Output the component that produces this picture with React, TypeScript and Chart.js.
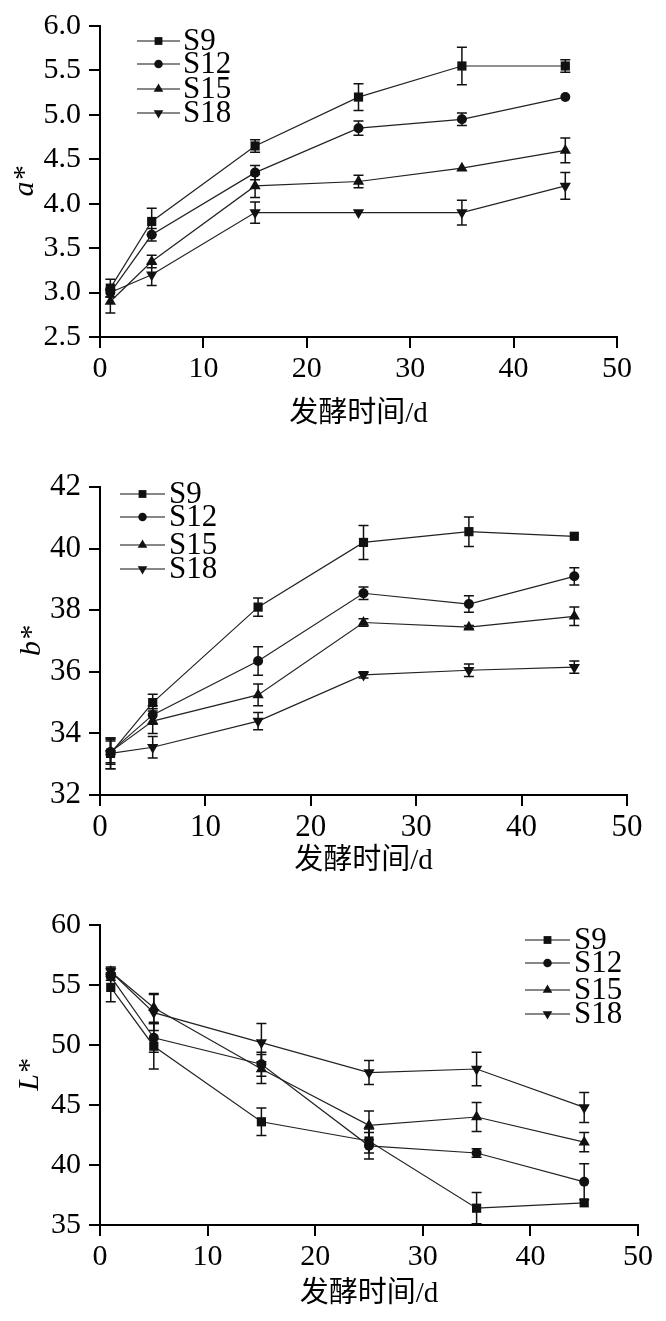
import React, { useEffect, useRef } from 'react';
import { Chart, registerables } from 'chart.js';

Chart.register(...registerables);

// ---------- data ----------
const days = [1, 5, 15, 25, 35, 45];
const seriesNames = ['S9', 'S12', 'S15', 'S18'];
const xAxisTitle = '发酵时间/d';

// a*
const aS9 = [3.05, 3.8, 4.65, 5.2, 5.55, 5.55];
const aS12 = [3.0, 3.65, 4.35, 4.85, 4.95, 5.2];
const aS15 = [2.9, 3.35, 4.2, 4.25, 4.4, 4.6];
const aS18 = [3.0, 3.2, 3.9, 3.9, 3.9, 4.2];
const aS9Err = [0.1, 0.15, 0.07, 0.15, 0.21, 0.07];
const aS12Err = [0.05, 0.07, 0.08, 0.08, 0.07, 0];
const aS15Err = [0.13, 0.07, 0.13, 0.07, 0, 0.14];
const aS18Err = [0, 0.12, 0.12, 0, 0.14, 0.15];

// b*
const bS9 = [33.35, 35.0, 38.1, 40.2, 40.55, 40.4];
const bS12 = [33.4, 34.6, 36.35, 38.55, 38.2, 39.1];
const bS15 = [33.4, 34.4, 35.25, 37.6, 37.45, 37.8];
const bS18 = [33.35, 33.55, 34.4, 35.9, 36.05, 36.15];
const bS9Err = [0.5, 0.27, 0.3, 0.55, 0.48, 0];
const bS12Err = [0.4, 0.3, 0.46, 0.2, 0.27, 0.28];
const bS15Err = [0.35, 0.4, 0.35, 0.12, 0.05, 0.3];
const bS18Err = [0.5, 0.35, 0.28, 0.1, 0.2, 0.2];

// L*
const lS9 = [54.8, 49.9, 43.6, 42.0, 36.4, 36.85];
const lS12 = [55.7, 50.6, 48.4, 41.6, 41.0, 38.6];
const lS15 = [56.1, 53.1, 48.0, 43.3, 44.0, 41.9];
const lS18 = [56.1, 52.7, 50.2, 47.7, 48.0, 44.8];
const lS9Err = [1.2, 1.9, 1.15, 1.0, 1.3, 0];
const lS12Err = [0.3, 1.2, 1.0, 1.1, 0.35, 1.5];
const lS15Err = [0.3, 1.2, 1.2, 1.2, 1.2, 0.8];
const lS18Err = [0.4, 1.5, 1.6, 1.0, 1.4, 1.25];

// ---------- styles ----------
const SERIF = "'Liberation Serif', 'Times New Roman', Times, serif";
const CJK = "'Liberation Serif', 'Noto Sans CJK SC', serif";
const INK = '#111';
const pointStyles = ['rect', 'circle', 'triangle', 'triangle'];
const pointRotations = [0, 0, 0, 180];
const pointRadii = [6.5, 5, 6.5, 6.5];

function drawMarker(ctx: CanvasRenderingContext2D, style: string, x: number, y: number, r: number, rotDeg: number) {
  ctx.beginPath();
  if (style === 'rect') {
    const s = Math.SQRT1_2 * r;
    ctx.rect(x - s, y - s, 2 * s, 2 * s);
  } else if (style === 'circle') {
    ctx.arc(x, y, r, 0, Math.PI * 2);
  } else {
    let rad = (rotDeg * Math.PI) / 180;
    const step = (2 * Math.PI) / 3;
    ctx.moveTo(x + Math.sin(rad) * r, y - Math.cos(rad) * r);
    rad += step;
    ctx.lineTo(x + Math.sin(rad) * r, y - Math.cos(rad) * r);
    rad += step;
    ctx.lineTo(x + Math.sin(rad) * r, y - Math.cos(rad) * r);
    ctx.closePath();
  }
  ctx.fill();
}

const errorBarPlugin = {
  id: 'errorBars',
  beforeDatasetsDraw(chart: any) {
    const ctx = chart.ctx as CanvasRenderingContext2D;
    const xs = chart.scales.x;
    const ys = chart.scales.y;
    ctx.save();
    ctx.strokeStyle = INK;
    ctx.lineWidth = 1.5;
    chart.data.datasets.forEach((ds: any) => {
      const errs: number[] = ds.errors || [];
      ds.data.forEach((p: any, i: number) => {
        const e = errs[i];
        if (!e) return;
        const px = xs.getPixelForValue(p.x);
        const y1 = ys.getPixelForValue(p.y + e);
        const y2 = ys.getPixelForValue(p.y - e);
        ctx.beginPath();
        ctx.moveTo(px, y1);
        ctx.lineTo(px, y2);
        ctx.moveTo(px - 5, y1);
        ctx.lineTo(px + 5, y1);
        ctx.moveTo(px - 5, y2);
        ctx.lineTo(px + 5, y2);
        ctx.stroke();
      });
    });
    ctx.restore();
  },
};

const innerLegendPlugin = {
  id: 'innerLegend',
  afterDraw(chart: any, _args: any, opts: any) {
    const ctx = chart.ctx as CanvasRenderingContext2D;
    const { x0, x1, textX, rows, fontSize } = opts;
    ctx.save();
    chart.data.datasets.forEach((ds: any, i: number) => {
      const yy = rows[i];
      ctx.strokeStyle = INK;
      ctx.lineWidth = 1.2;
      ctx.beginPath();
      ctx.moveTo(x0, yy);
      ctx.lineTo(x1, yy);
      ctx.stroke();
      ctx.fillStyle = INK;
      drawMarker(ctx, pointStyles[i], (x0 + x1) / 2, yy, pointRadii[i] * 0.85, pointRotations[i]);
      ctx.fillStyle = '#000';
      ctx.font = `${fontSize}px ${SERIF}`;
      ctx.textBaseline = 'middle';
      ctx.textAlign = 'left';
      ctx.fillText(ds.label, textX, yy + 1);
    });
    ctx.restore();
  },
};

type Panel = {
  top: number;
  height: number;
  left: number;
  right: number;
  areaTop: number;
  areaBottom: number;
  yMin: number;
  yMax: number;
  yStep: number;
  yDecimals: number;
  yTitle: string;
  values: number[][];
  errors: number[][];
  legend: { x0: number; x1: number; textX: number; rows: number[]; fontSize: number };
  tickSize: number;
  xTitlePad: number;
  yTitlePad: number;
};

const W = 666;

const panels: Panel[] = [
  {
    top: 0, height: 440, left: 100, right: 617, areaTop: 23, areaBottom: 337,
    yMin: 2.5, yMax: 6.0, yStep: 0.5, yDecimals: 1, yTitle: 'a*',
    values: [aS9, aS12, aS15, aS18], errors: [aS9Err, aS12Err, aS15Err, aS18Err],
    legend: { x0: 137, x1: 180, textX: 183, rows: [41, 64, 89, 113], fontSize: 31 },
    tickSize: 30, xTitlePad: 8, yTitlePad: 10,
  },
  {
    top: 440, height: 440, left: 100, right: 627, areaTop: 47, areaBottom: 355,
    yMin: 32, yMax: 42, yStep: 2, yDecimals: 0, yTitle: 'b*',
    values: [bS9, bS12, bS15, bS18], errors: [bS9Err, bS12Err, bS15Err, bS18Err],
    legend: { x0: 120, x1: 165, textX: 169, rows: [54, 77, 105, 129], fontSize: 31 },
    tickSize: 31, xTitlePad: 1, yTitlePad: 17,
  },
  {
    top: 880, height: 441, left: 100, right: 638, areaTop: 45, areaBottom: 345,
    yMin: 35, yMax: 60, yStep: 5, yDecimals: 0, yTitle: 'L*',
    values: [lS9, lS12, lS15, lS18], errors: [lS9Err, lS12Err, lS15Err, lS18Err],
    legend: { x0: 525, x1: 570, textX: 574, rows: [60, 83, 110, 134], fontSize: 31 },
    tickSize: 30, xTitlePad: 9, yTitlePad: 15,
  },
];

function ChartPanel({ p }: { p: Panel }) {
  const ref = useRef<HTMLCanvasElement | null>(null);
  useEffect(() => {
    if (!ref.current) return;
    const datasets = seriesNames.map((name, i) => ({
      label: name,
      data: days.map((d, j) => ({ x: d, y: p.values[i][j] })),
      errors: p.errors[i],
      borderColor: '#222',
      borderWidth: 1.2,
      backgroundColor: INK,
      pointBackgroundColor: INK,
      pointBorderColor: INK,
      pointBorderWidth: 0,
      pointStyle: pointStyles[i],
      pointRotation: pointRotations[i],
      pointRadius: pointRadii[i],
      fill: false,
      tension: 0,
      clip: 12,
    }));
    const gridOpts = {
      display: true,
      drawOnChartArea: false,
      drawTicks: true,
      tickLength: 11,
      color: '#000',
      lineWidth: 2,
    };
    const chart = new Chart(ref.current, {
      type: 'line',
      data: { datasets } as any,
      plugins: [errorBarPlugin, innerLegendPlugin],
      options: {
        animation: false,
        responsive: false,
        devicePixelRatio: 1,
        layout: {
          padding: { left: 0, top: p.areaTop, right: W - p.right, bottom: 0 },
        },
        plugins: {
          legend: { display: false },
          tooltip: { enabled: false },
          innerLegend: p.legend,
        } as any,
        scales: {
          x: {
            type: 'linear',
            min: 0,
            max: 50,
            ticks: {
              stepSize: 10,
              color: '#000',
              padding: 3,
              font: { family: SERIF, size: p.tickSize },
              maxRotation: 0,
            },
            grid: gridOpts,
            border: { display: true, color: '#000', width: 2 },
            title: {
              display: true,
              text: xAxisTitle,
              color: '#000',
              font: { family: CJK, size: 29, lineHeight: 1.2 },
              padding: { top: 0, bottom: p.xTitlePad },
            },
            afterFit: (s: any) => {
              s.height = p.height - p.areaBottom;
            },
          },
          y: {
            type: 'linear',
            min: p.yMin,
            max: p.yMax,
            ticks: {
              stepSize: p.yStep,
              color: '#000',
              padding: 8,
              font: { family: SERIF, size: p.tickSize },
              callback: (v: any) => Number(v).toFixed(p.yDecimals),
            },
            grid: gridOpts,
            border: { display: true, color: '#000', width: 2 },
            title: {
              display: true,
              text: p.yTitle,
              color: '#000',
              font: { family: SERIF, size: 30, style: 'italic', lineHeight: 1 },
              padding: { top: p.yTitlePad, bottom: 0 },
            },
            afterFit: (s: any) => {
              s.width = p.left;
            },
          },
        },
      } as any,
    });
    return () => {
      chart.destroy();
    };
  }, [p]);
  return (
    <canvas
      ref={ref}
      width={W}
      height={p.height}
      style={{ position: 'absolute', left: 0, top: p.top, width: W, height: p.height, display: 'block' }}
    />
  );
}

export default function App() {
  return (
    <div style={{ position: 'absolute', left: 0, top: 0, width: W, height: 1321, background: '#fff', overflow: 'hidden' }}>
      {panels.map((p, i) => (
        <ChartPanel key={i} p={p} />
      ))}
    </div>
  );
}
